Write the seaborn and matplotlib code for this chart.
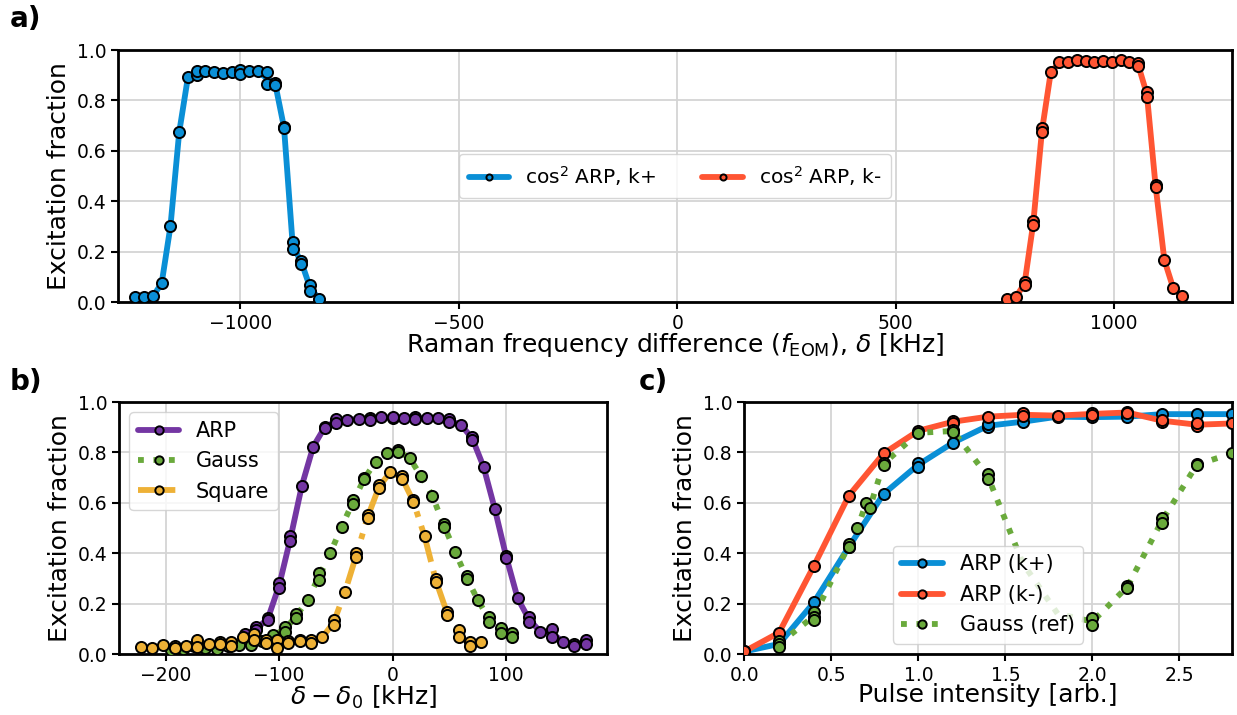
import numpy as np
import pandas as pd
import matplotlib
matplotlib.use("Agg")
import matplotlib.pyplot as plt
import seaborn as sns

# ---------------- data ----------------
# panel a: cos^2 ARP, k+
a_kp_x = [-1240, -1220, -1200, -1180, -1160, -1140, -1120, -1100, -1100, -1080, -1060, -1040,
          -1020, -1000, -1000, -980, -960, -940, -940, -920, -920, -900, -900, -880, -880,
          -860, -860, -840, -840, -820]
a_kp_y = [0.021, 0.018, 0.022, 0.075, 0.30, 0.673, 0.892, 0.90, 0.915, 0.915, 0.912, 0.908,
          0.912, 0.92, 0.905, 0.915, 0.915, 0.912, 0.866, 0.87, 0.86, 0.695, 0.69, 0.237, 0.209,
          0.164, 0.15, 0.067, 0.044, 0.013]
# panel a: cos^2 ARP, k-
a_km_x = [755, 775, 795, 795, 815, 815, 835, 835, 855, 875, 895, 915, 935, 955, 975, 995,
          1015, 1035, 1055, 1055, 1075, 1075, 1095, 1095, 1115, 1135, 1155]
a_km_y = [0.013, 0.02, 0.078, 0.067, 0.32, 0.307, 0.69, 0.673, 0.911, 0.951, 0.951, 0.962,
          0.958, 0.951, 0.958, 0.954, 0.96, 0.954, 0.947, 0.937, 0.835, 0.815, 0.464, 0.457,
          0.167, 0.057, 0.025]

# panel b: ARP
b_arp_x = [-130, -120, -120, -110, -110, -100, -100, -90, -90, -80, -70, -60, -60, -50, -50,
           -40, -30, -20, -20, -10, 0, 0, 10, 20, 20, 30, 40, 50, 50, 60, 70, 70, 80, 90,
           100, 100, 110, 120, 120, 130, 140, 140, 150, 160, 160, 170, 170]
b_arp_y = [0.078, 0.106, 0.095, 0.144, 0.135, 0.283, 0.261, 0.47, 0.45, 0.668, 0.823, 0.902,
           0.896, 0.932, 0.916, 0.93, 0.932, 0.935, 0.93, 0.94, 0.935, 0.94, 0.938, 0.94,
           0.932, 0.935, 0.938, 0.932, 0.92, 0.91, 0.862, 0.85, 0.743, 0.574, 0.39, 0.38,
           0.221, 0.148, 0.128, 0.088, 0.098, 0.066, 0.049, 0.04, 0.032, 0.056, 0.04]
# panel b: Gauss
b_gauss_x = [-195, -185, -175, -165, -155, -145, -135, -125, -115, -105, -95, -95, -85, -85,
             -75, -65, -65, -55, -45, -35, -35, -25, -25, -15, -5, 5, 5, 15, 25, 35, 45, 45,
             55, 65, 65, 75, 85, 85, 95, 95, 105, 105]
b_gauss_y = [0.015, 0.02, 0.03, 0.022, 0.018, 0.03, 0.036, 0.036, 0.05, 0.075, 0.108, 0.088,
             0.159, 0.142, 0.214, 0.32, 0.294, 0.40, 0.505, 0.611, 0.595, 0.70, 0.693, 0.763,
             0.796, 0.81, 0.80, 0.777, 0.706, 0.627, 0.516, 0.505, 0.406, 0.31, 0.296, 0.214,
             0.148, 0.128, 0.102, 0.082, 0.082, 0.066]
# panel b: Square
b_sq_x = [-222, -212, -202, -192, -192, -182, -172, -172, -162, -152, -152, -142, -142, -132,
          -122, -122, -112, -112, -102, -102, -92, -92, -82, -82, -72, -72, -62, -52, -52,
          -42, -32, -32, -22, -22, -12, -12, -2, 8, 8, 18, 18, 28, 38, 38, 48, 48, 58, 58,
          68, 68, 78]
b_sq_y = [0.027, 0.023, 0.036, 0.03, 0.023, 0.03, 0.056, 0.027, 0.04, 0.049, 0.04, 0.049,
          0.03, 0.069, 0.08, 0.056, 0.056, 0.045, 0.056, 0.023, 0.05, 0.045, 0.056, 0.05,
          0.056, 0.045, 0.066, 0.135, 0.115, 0.247, 0.40, 0.386, 0.55, 0.54, 0.67, 0.658,
          0.723, 0.706, 0.693, 0.611, 0.604, 0.468, 0.296, 0.287, 0.168, 0.155, 0.095, 0.066,
          0.049, 0.032, 0.049]

# panel c: ARP (k+)
c_kp_x = [0.0, 0.2, 0.4, 0.6, 0.8, 1.0, 1.0, 1.2, 1.4, 1.4, 1.6, 1.8, 2.0, 2.2, 2.4, 2.6, 2.8]
c_kp_y = [0.01, 0.04, 0.205, 0.425, 0.635, 0.76, 0.743, 0.839, 0.90, 0.912, 0.922, 0.942,
          0.94, 0.942, 0.952, 0.952, 0.952]
# panel c: ARP (k-)
c_km_x = [0.0, 0.2, 0.4, 0.6, 0.8, 1.0, 1.2, 1.2, 1.4, 1.6, 1.6, 1.8, 2.0, 2.0, 2.2, 2.2,
          2.4, 2.4, 2.6, 2.6, 2.8]
c_km_y = [0.01, 0.085, 0.35, 0.628, 0.796, 0.886, 0.926, 0.918, 0.942, 0.955, 0.944, 0.946,
          0.958, 0.948, 0.962, 0.955, 0.922, 0.93, 0.905, 0.915, 0.915]
# panel c: Gauss (ref) measured points (with markers)
c_g_x = [0.2, 0.2, 0.2, 0.4, 0.4, 0.4, 0.6, 0.6, 0.65, 0.7, 0.72, 0.8, 0.8, 1.0, 1.2, 1.2,
         1.4, 1.4, 2.0, 2.0, 2.2, 2.2, 2.4, 2.4, 2.6, 2.6, 2.8]
c_g_y = [0.053, 0.04, 0.029, 0.168, 0.148, 0.135, 0.437, 0.423, 0.499, 0.60, 0.578, 0.76,
         0.75, 0.878, 0.89, 0.88, 0.714, 0.693, 0.142, 0.115, 0.27, 0.263,
         0.538, 0.521, 0.754, 0.749, 0.796]
# panel c: Gauss (ref) line-only points hidden behind the legend
c_g_line_x = [1.6, 1.8]
c_g_line_y = [0.36, 0.16]

labels_a = [r"cos$^2$ ARP, k+", r"cos$^2$ ARP, k-"]
labels_b = ["ARP", "Gauss", "Square"]
labels_c = ["ARP (k+)", "ARP (k-)", "Gauss (ref)"]

# ---------------- style ----------------
sns.set_theme(style="whitegrid")
plt.rcParams.update({
    "font.family": ["DejaVu Sans"],
    "text.color": "black",
    "axes.edgecolor": "black",
    "axes.linewidth": 2.0,
    "grid.color": "#d4d4d4",
    "grid.linewidth": 1.3,
    "xtick.bottom": True,
    "ytick.left": True,
    "xtick.major.size": 5,
    "ytick.major.size": 5,
    "xtick.major.width": 1.5,
    "ytick.major.width": 1.5,
    "xtick.color": "black",
    "ytick.color": "black",
    "xtick.labelcolor": "black",
    "ytick.labelcolor": "black",
    "xtick.labelsize": 13.5,
    "ytick.labelsize": 13.5,
    "axes.labelsize": 18,
    "axes.labelcolor": "black",
    "legend.fontsize": 15,
})

BLUE = "#0a8fd6"
RED = "#ff5533"
PURPLE = "#7436a3"
GREEN = "#6aaa3c"
YELLOW = "#eeb136"

fig = plt.figure(figsize=(12.37, 7.15), dpi=100)
ax_a = fig.add_axes([0.0954, 0.5776, 0.9006, 0.3524])
ax_b = fig.add_axes([0.0962, 0.0853, 0.3948, 0.3524])
ax_c = fig.add_axes([0.6017, 0.0853, 0.3940, 0.3524])

MS = 8.0
MEW = 1.4
LW = 4.2


def draw(ax, xs, ys, color, ls, label, extra_x=(), extra_y=()):
    df = pd.DataFrame({"x": list(xs) + list(extra_x), "y": list(ys) + list(extra_y)})
    sns.lineplot(data=df, x="x", y="y", ax=ax, color=color, lw=LW, linestyle=ls,
                 errorbar=None, estimator="mean", zorder=2)
    ax.plot(xs, ys, ls="none", marker="o", ms=MS, mfc=color, mec="black",
            mew=MEW, zorder=3)
    h, = ax.plot([], [], color=color, lw=LW, ls=ls, marker="o", ms=MS, mfc=color,
                 mec="black", mew=MEW, label=label)
    return h


XPAD = -1

draw(ax_a, a_kp_x, a_kp_y, BLUE, "-", labels_a[0])
draw(ax_a, a_km_x, a_km_y, RED, "-", labels_a[1])
ax_a.set_xlim(-1280, 1270)
ax_a.set_ylim(0, 1)
ax_a.set_xticks([-1000, -500, 0, 500, 1000])
ax_a.set_yticks([0, 0.2, 0.4, 0.6, 0.8, 1.0])
ax_a.set_xlabel(r"Raman frequency difference ($f_{\mathrm{EOM}}$), $\delta$ [kHz]", labelpad=XPAD)
ax_a.set_ylabel("Excitation fraction")
ax_a.legend(loc="center", ncol=2, markerscale=0.55, handlelength=2.0, columnspacing=2.3,
            borderpad=0.5, framealpha=0.8, fontsize=14.5)

draw(ax_b, b_arp_x, b_arp_y, PURPLE, "-", labels_b[0])
draw(ax_b, b_gauss_x, b_gauss_y, GREEN, ":", labels_b[1])
draw(ax_b, b_sq_x, b_sq_y, YELLOW, "-.", labels_b[2])
ax_b.set_xlim(-241, 189)
ax_b.set_ylim(0, 1)
ax_b.set_xticks([-200, -100, 0, 100])
ax_b.set_yticks([0, 0.2, 0.4, 0.6, 0.8, 1.0])
ax_b.set_xlabel(r"$\delta - \delta_0$ [kHz]", labelpad=XPAD)
ax_b.set_ylabel("Excitation fraction")
ax_b.legend(loc="upper left", markerscale=0.75, handlelength=2.0, framealpha=0.8)

draw(ax_c, c_kp_x, c_kp_y, BLUE, "-", labels_c[0])
draw(ax_c, c_km_x, c_km_y, RED, "-", labels_c[1])
draw(ax_c, c_g_x, c_g_y, GREEN, ":", labels_c[2], c_g_line_x, c_g_line_y)
ax_c.set_xlim(0, 2.8)
ax_c.set_ylim(0, 1)
ax_c.set_xticks([0, 0.5, 1.0, 1.5, 2.0, 2.5])
ax_c.set_yticks([0, 0.2, 0.4, 0.6, 0.8, 1.0])
ax_c.set_xlabel("Pulse intensity [arb.]", labelpad=XPAD)
ax_c.set_ylabel("Excitation fraction")
ax_c.legend(loc="lower center", markerscale=0.75, handlelength=2.0, framealpha=0.8)

for ax in (ax_a, ax_b, ax_c):
    for s in ax.spines.values():
        s.set_color("black")
        s.set_linewidth(2.0)

fig.text(0.008, 0.962, "a)", fontsize=20, fontweight="bold", va="baseline", color="black")
fig.text(0.008, 0.454, "b)", fontsize=20, fontweight="bold", va="baseline", color="black")
fig.text(0.516, 0.454, "c)", fontsize=20, fontweight="bold", va="baseline", color="black")

fig.savefig("out.png", dpi=100)
